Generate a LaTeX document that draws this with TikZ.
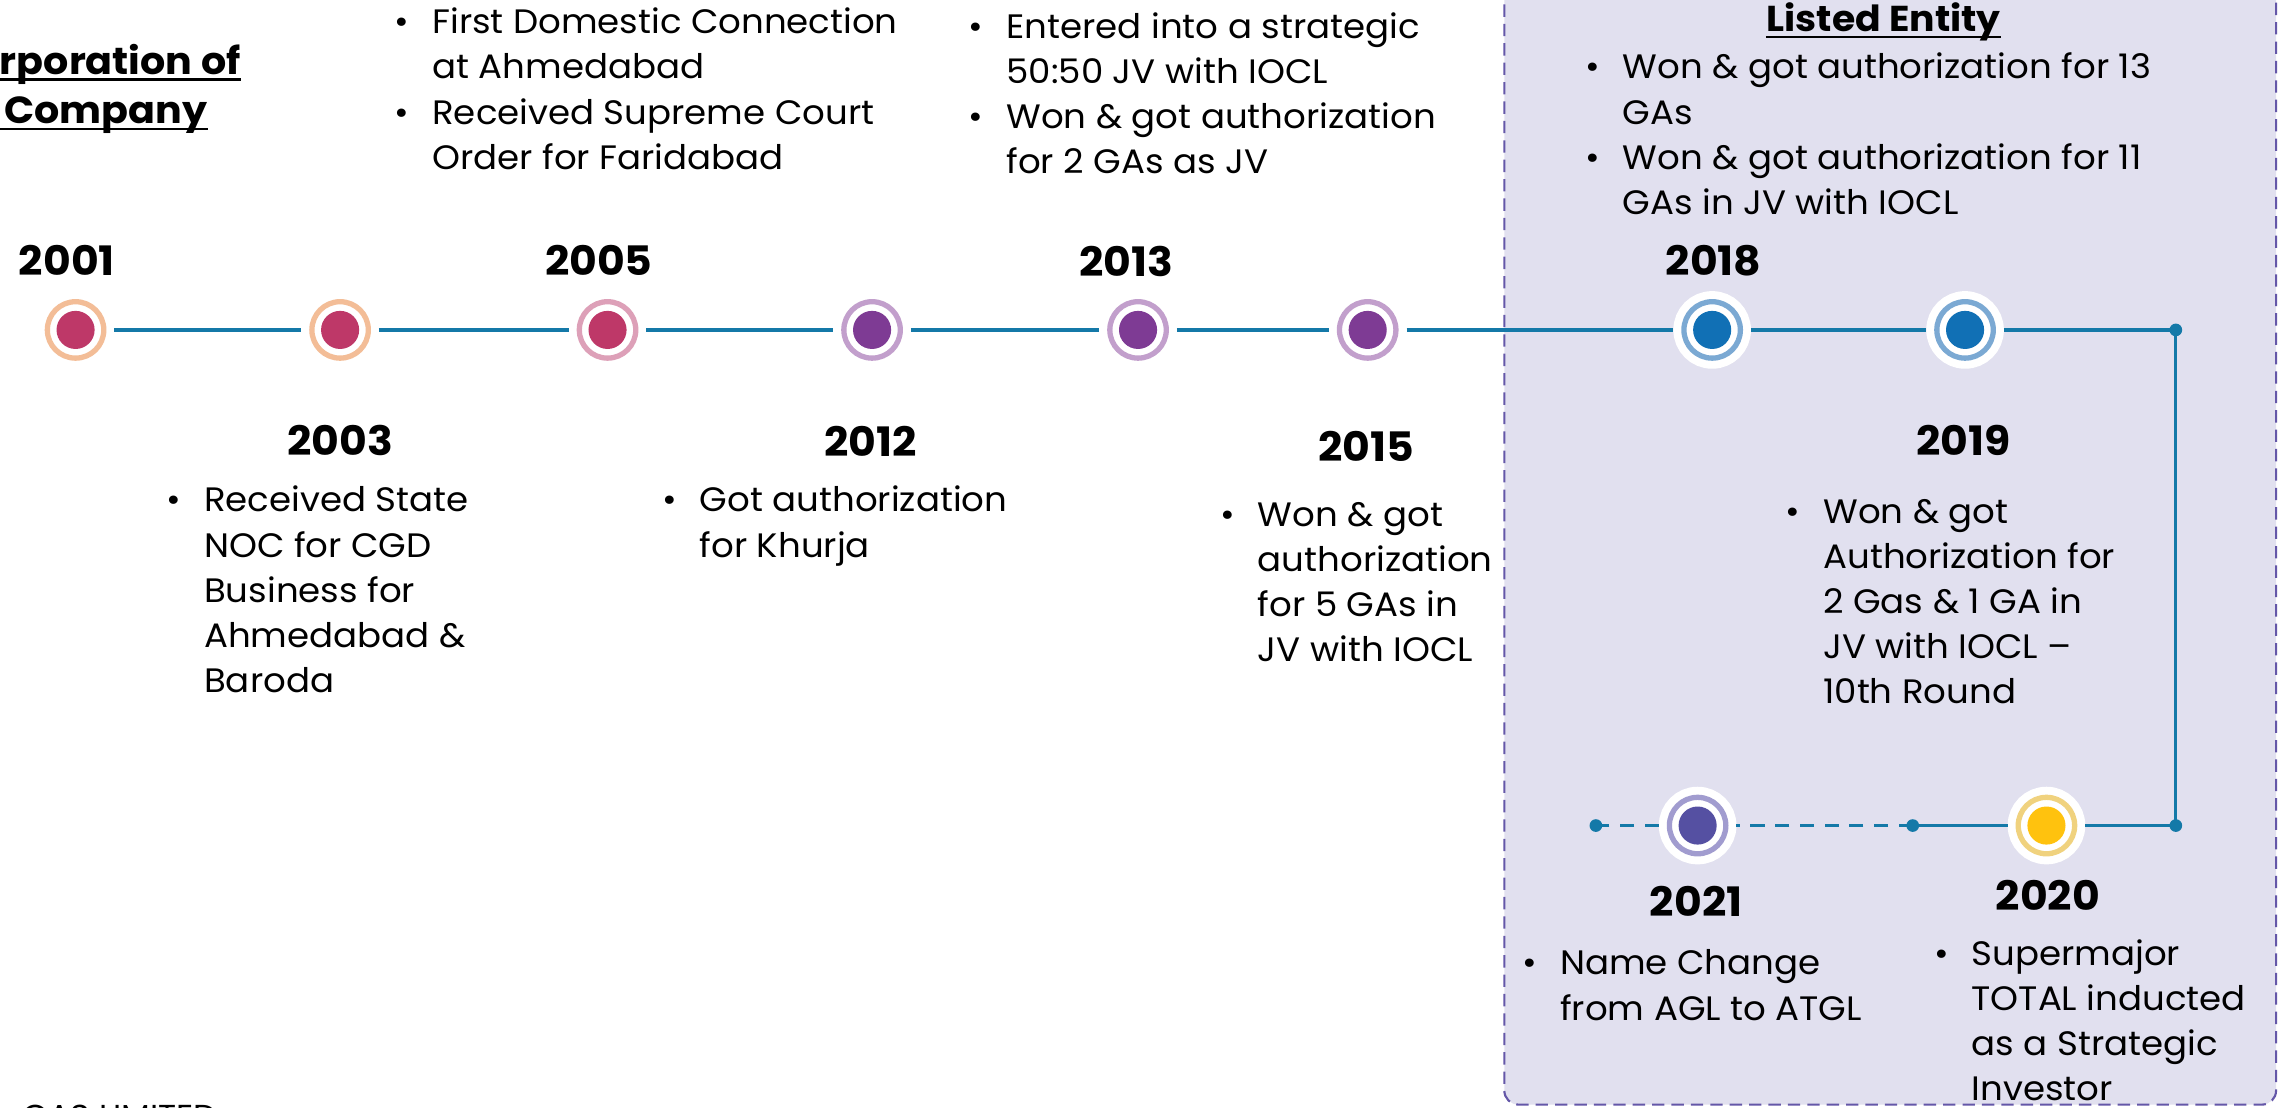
\documentclass[tikz,border=0pt]{standalone}
\usepackage{fontspec}
\setmainfont{Poppins}[FakeStretch=1.05]
\usepackage{xcolor}

\definecolor{tlblue}{HTML}{1479A8}
\definecolor{panelfill}{HTML}{E1E0EF}
\definecolor{panelline}{HTML}{6457A8}
\definecolor{peach}{HTML}{F3BD97}
\definecolor{berry}{HTML}{BE3868}
\definecolor{rose}{HTML}{DDA0B8}
\definecolor{lilac}{HTML}{C29FCC}
\definecolor{plum}{HTML}{7E3B94}
\definecolor{sky}{HTML}{7BA9D3}
\definecolor{ocean}{HTML}{1170B5}
\definecolor{straw}{HTML}{F0D27E}
\definecolor{gold}{HTML}{FFC20E}
\definecolor{heather}{HTML}{A19CCF}
\definecolor{indigo}{HTML}{5550A2}

\newcommand{\bitem}{\llap{\textbullet\hspace{6.5pt}}}

\tikzset{
  tl/.style={draw=tlblue, line width=0.9pt},
  tldash/.style={tl, dash pattern=on 4pt off 3pt},
  dot/.style={circle, fill=tlblue, inner sep=0pt, minimum size=3.6pt},
  mstone/.style 2 args={circle, draw=#1, line width=1.5pt, fill=white,
    minimum size=16pt, inner sep=0pt, outer sep=3pt,
    preaction={draw=white, line width=6pt},
    path picture={\fill[#2] (path picture bounding box.center) circle (5.4pt);}},
  year/.style={font=\fontsize{11.5}{13}\selectfont\bfseries, inner sep=0pt},
  blist/.style={anchor=north west, inner sep=0pt, align=left,
    font=\fontsize{9.6}{12.8}\selectfont},
  ttl/.style={font=\fontsize{10.7}{13}\selectfont\bfseries, inner sep=0pt},
  uline/.style={line width=0.75pt},
  panel/.style={draw=panelline, fill=panelfill, line width=0.6pt,
    dash pattern=on 3.5pt off 2pt, rounded corners=4pt},
}

\begin{document}
\begin{tikzpicture}[x=0.412pt, y=-0.412pt]
  \useasboundingbox (0,0) rectangle (1568,762);
  \clip (0,0) rectangle (1568,762);
  \fill[white] (0,0) rectangle (1568,762);

  % listed entity panel
  \draw[panel] (1035,-20) rectangle (1566,760);

  % milestones, top row
  \node[mstone={peach}{berry}] (m2001) at (52,227) {};
  \node[mstone={peach}{berry}] (m2003) at (234,227) {};
  \node[mstone={rose}{berry}] (m2005) at (418,227) {};
  \node[mstone={lilac}{plum}] (m2012) at (600,227) {};
  \node[mstone={lilac}{plum}] (m2013) at (783,227) {};
  \node[mstone={lilac}{plum}] (m2015) at (941,227) {};
  \node[mstone={sky}{ocean}] (m2018) at (1178,227) {};
  \node[mstone={sky}{ocean}] (m2019) at (1352,227) {};
  % milestones, bottom row
  \node[mstone={straw}{gold}] (m2020) at (1408,568) {};
  \node[mstone={heather}{indigo}] (m2021) at (1168,568) {};

  % bends and ends
  \node[dot] (d1) at (1497,227) {};
  \node[dot] (d2) at (1497,568) {};
  \node[dot] (d3) at (1316,568) {};
  \node[dot] (d4) at (1098,568) {};

  % timeline
  \draw[tl] (m2001) -- (m2003);
  \draw[tl] (m2003) -- (m2005);
  \draw[tl] (m2005) -- (m2012);
  \draw[tl] (m2012) -- (m2013);
  \draw[tl] (m2013) -- (m2015);
  \draw[tl] (m2015) -- (m2018);
  \draw[tl] (m2018) -- (m2019);
  \draw[tl] (m2019) -- (d1.center);
  \draw[tl] (d1.center) -- (d2.center);
  \draw[tl] (d2.center) -- (m2020);
  \draw[tl] (m2020) -- (d3.center);
  \draw[tldash] (d3.center) -- (m2021);
  \draw[tldash] (m2021) -- (d4.center);

  % years
  \node[year] (y2001) at (46,179) {2001};
  \node[year] (y2005) at (412,179) {2005};
  \node[year] (y2013) at (775,180) {2013};
  \node[year] (y2018) at (1179,179) {2018};
  \node[year] (y2003) at (234,303) {2003};
  \node[year] (y2012) at (599,304) {2012};
  \node[year] (y2015) at (940,307) {2015};
  \node[year] (y2019) at (1351,303) {2019};
  \node[year] (y2021) at (1167,620) {2021};
  \node[year] (y2020) at (1409,616) {2020};

  % headings
  \node[ttl, anchor=east] (ttl1) at (166,44) {rporation of};
  \node[ttl, anchor=east] (ttl2) at (143,79) {e Company};
  \node[ttl, font=\fontsize{10.2}{12}\selectfont\bfseries] (listed) at (1296,15) {Listed Entity};
  \draw[uline] ([yshift=-1.6pt]ttl1.base west) -- ([yshift=-1.6pt]ttl1.base east);
  \draw[uline] ([yshift=-1.6pt]ttl2.base west) -- ([yshift=-1.6pt]ttl2.base east);
  \draw[uline] ([yshift=-1.6pt]listed.base west) -- ([yshift=-1.6pt]listed.base east);

  % notes
  \node[blist] (t2005) at (297,5) {\bitem First Domestic Connection\\
    at Ahmedabad\\
    \bitem Received Supreme Court\\
    Order for Faridabad};
  \node[blist] (t2013) at (692,8) {\bitem Entered into a strategic\\
    50:50 JV with IOCL\\
    \bitem Won \& got authorization\\
    for 2 GAs as JV};
  \node[blist] (tlisted) at (1116,36) {\bitem Won \& got authorization for 13\\
    GAs\\
    \bitem Won \& got authorization for 11\\
    GAs in JV with IOCL};
  \node[blist] (t2003) at (140,334) {\bitem Received State\\
    NOC for CGD\\
    Business for\\
    Ahmedabad \&\\
    Baroda};
  \node[blist] (t2012) at (481,334) {\bitem Got authorization\\
    for Khurja};
  \node[blist] (t2015) at (865,345) {\bitem Won \& got\\
    authorization\\
    for 5 GAs in\\
    JV with IOCL};
  \node[blist] (t2019) at (1254,343) {\bitem Won \& got\\
    Authorization for\\
    2 Gas \& 1 GA in\\
    JV with IOCL --\\
    10th Round};
  \node[blist] (t2021) at (1073,653) {\bitem Name Change\\
    from AGL to ATGL};
  \node[blist] (t2020) at (1356,646) {\bitem Supermajor\\
    TOTAL inducted\\
    as a Strategic\\
    Investor};

  \node[anchor=north west, inner sep=0pt, font=\fontsize{9}{10}\selectfont] (foot) at (15,759.5) {GAS LIMITED};
\end{tikzpicture}
\end{document}
